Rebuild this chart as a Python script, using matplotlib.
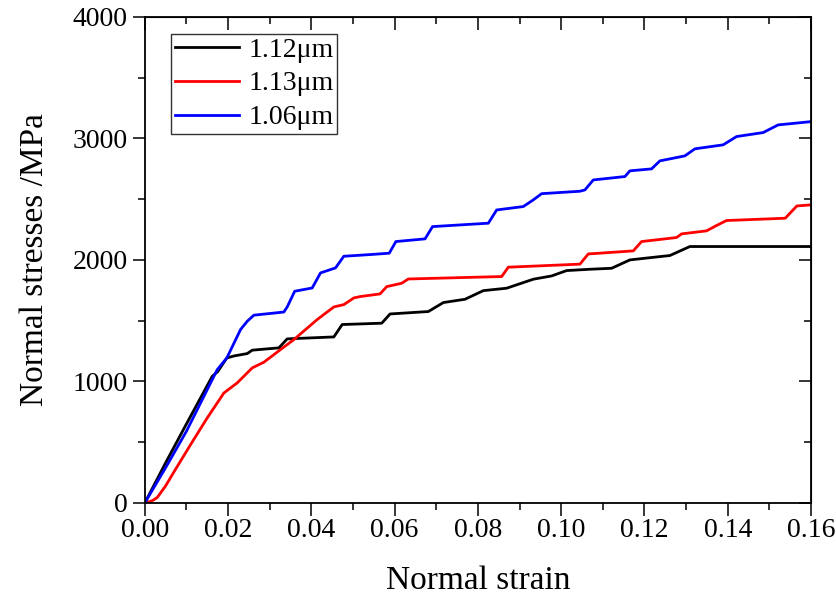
import numpy as np
import matplotlib
matplotlib.use("Agg")
import matplotlib.pyplot as plt
from matplotlib.ticker import MultipleLocator, FormatStrFormatter

plt.rcParams['font.family'] = ['Liberation Serif', 'DejaVu Serif']

# 1.12um (black)
x_112 = [0, 0.005, 0.010, 0.0162, 0.0175, 0.0197, 0.0215, 0.0246, 0.0258, 0.0322,
         0.0342, 0.0454, 0.0474, 0.0517, 0.0569, 0.0589, 0.0681, 0.0717, 0.0769,
         0.0813, 0.0869, 0.0933, 0.0977, 0.1013, 0.1069, 0.1121, 0.1165, 0.1261,
         0.1309, 0.16]
y_112 = [0, 330, 650, 1042, 1080, 1193, 1210, 1229, 1257, 1276,
         1350, 1366, 1468, 1473, 1479, 1555, 1575, 1649, 1676,
         1747, 1767, 1841, 1868, 1912, 1923, 1931, 2000, 2036,
         2110, 2110]

# 1.13um (red)
x_113 = [0, 0.001, 0.002, 0.003, 0.005, 0.007, 0.011, 0.015, 0.019, 0.0222, 0.0258, 0.0286,
         0.0326, 0.0358, 0.0414, 0.0454, 0.0478, 0.0502, 0.0517, 0.0565, 0.0581,
         0.0617, 0.0633, 0.0857, 0.0873, 0.1045, 0.1065, 0.1173, 0.1193, 0.1277,
         0.1289, 0.1349, 0.1373, 0.1397, 0.1538, 0.1566, 0.16]
y_113 = [0, 8, 22, 45, 140, 255, 480, 700, 905, 988, 1111, 1158,
         1262, 1344, 1509, 1613, 1632, 1687, 1698, 1720, 1780,
         1808, 1843, 1863, 1940, 1965, 2049, 2074, 2151, 2184,
         2214, 2239, 2283, 2324, 2343, 2444, 2453]

# 1.06um (blue)
x_106 = [0, 0.005, 0.010, 0.0174, 0.0197, 0.023, 0.0246, 0.0262, 0.0334, 0.0342,
         0.036, 0.0402, 0.0422, 0.0458, 0.0478, 0.0542, 0.0587, 0.0603, 0.0673,
         0.0691, 0.0825, 0.0845, 0.0909, 0.0933, 0.0953, 0.1045, 0.1057, 0.1077,
         0.1153, 0.1165, 0.1217, 0.1237, 0.1297, 0.1321, 0.1389, 0.1421, 0.1485,
         0.1521, 0.16]
y_106 = [0, 290, 590, 1097, 1193, 1427, 1495, 1545, 1571, 1613,
         1742, 1769, 1893, 1934, 2030, 2044, 2055, 2151, 2173,
         2274, 2302, 2411, 2439, 2494, 2545, 2565, 2576, 2658,
         2686, 2733, 2749, 2815, 2856, 2914, 2947, 3015, 3048,
         3111, 3138]

labels = ["1.12\u03bcm", "1.13\u03bcm", "1.06\u03bcm"]

fig = plt.figure(figsize=(8.37, 6.03), dpi=100)
ax = fig.add_axes([0.173, 0.166, 0.796, 0.806])

ax.plot(x_112, y_112, color='black', lw=2.0, label=labels[0])
ax.plot(x_113, y_113, color='red', lw=2.0, label=labels[1])
ax.plot(x_106, y_106, color='blue', lw=2.0, label=labels[2])

ax.set_xlim(0, 0.16)
ax.set_ylim(0, 4000)
ax.xaxis.set_major_locator(MultipleLocator(0.02))
ax.xaxis.set_minor_locator(MultipleLocator(0.01))
ax.yaxis.set_major_locator(MultipleLocator(1000))
ax.yaxis.set_minor_locator(MultipleLocator(500))
ax.xaxis.set_major_formatter(FormatStrFormatter('%.2f'))

ax.tick_params(which='both', direction='out', labelsize=20, width=1.1)
ax.tick_params(which='major', length=9)
ax.tick_params(which='minor', length=5)
ax.tick_params(axis='x', pad=2)

# mirrored ticks on top and right pointing inward
axt = ax.secondary_xaxis('top')
axt.xaxis.set_major_locator(MultipleLocator(0.02))
axt.xaxis.set_minor_locator(MultipleLocator(0.01))
axt.tick_params(which='both', direction='in', labeltop=False, width=1.1)
axt.tick_params(which='major', length=9)
axt.tick_params(which='minor', length=5)
axr = ax.secondary_yaxis('right')
axr.yaxis.set_major_locator(MultipleLocator(1000))
axr.yaxis.set_minor_locator(MultipleLocator(500))
axr.tick_params(which='both', direction='in', labelright=False, width=1.1)
axr.tick_params(which='major', length=9)
axr.tick_params(which='minor', length=5)

for s in ax.spines.values():
    s.set_linewidth(1.3)

ax.set_xlabel("Normal strain", fontsize=24, labelpad=16)
ax.set_ylabel("Normal stresses /MPa", fontsize=24, labelpad=16)

leg = ax.legend(loc='upper left', bbox_to_anchor=(0.04, 0.965), fontsize=20,
                frameon=True, fancybox=False, edgecolor='black',
                handlelength=2.3, handletextpad=0.35, borderpad=0.12,
                labelspacing=0.3, borderaxespad=0)
leg.get_frame().set_linewidth(1.0)

fig.savefig("out.png", dpi=100)
